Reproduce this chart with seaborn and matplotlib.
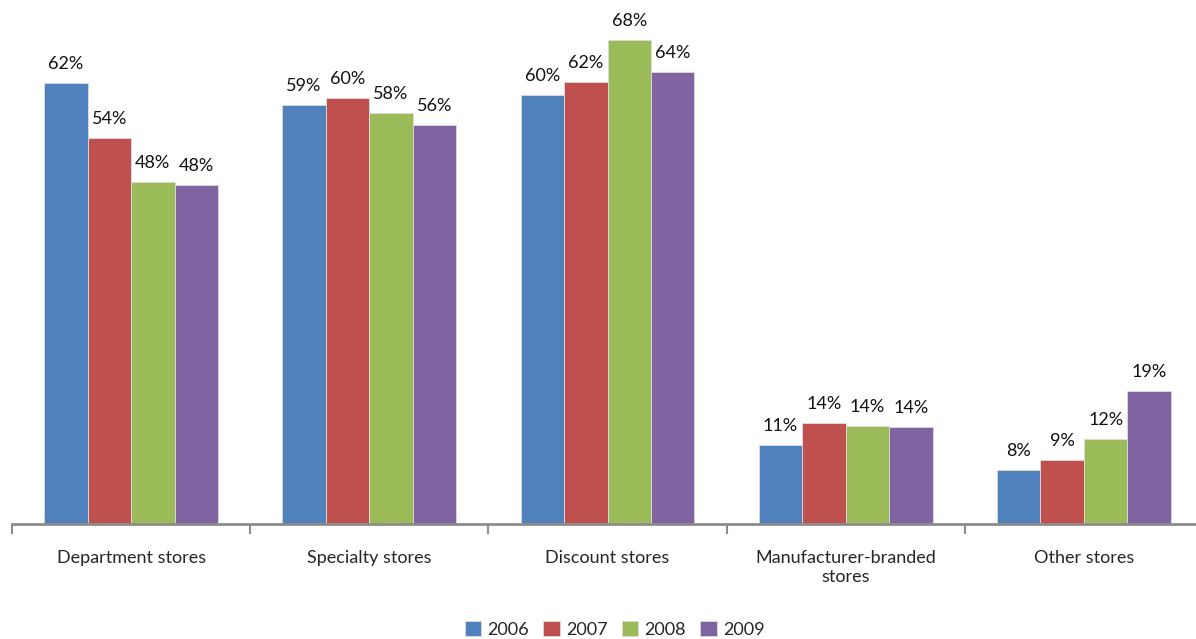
import pandas as pd
import matplotlib
matplotlib.use('Agg')
import matplotlib.pyplot as plt
import seaborn as sns

# values (bar heights, labels rounded)
categories = ['Department stores', 'Specialty stores', 'Discount stores',
              'Manufacturer-branded\nstores', 'Other stores']
years = ['2006', '2007', '2008', '2009']
share_2006 = [62.1, 59.0, 60.4, 11.1, 7.6]
share_2007 = [54.4, 60.0, 62.3, 14.2, 9.0]
share_2008 = [48.2, 57.9, 68.1, 13.8, 12.0]
share_2009 = [47.7, 56.2, 63.7, 13.6, 18.7]
colors = ['#4F81BD', '#C0504D', '#9BBB59', '#8064A2']

rows = []
for year, vals in zip(years, [share_2006, share_2007, share_2008, share_2009]):
    for cat, v in zip(categories, vals):
        rows.append({'category': cat, 'year': year, 'share': v})
df = pd.DataFrame(rows)

sns.set_style('white')
plt.rcParams['font.family'] = ['Lato', 'DejaVu Sans']

fig = plt.figure(figsize=(11.96, 6.39), dpi=100)
ax = fig.add_axes([12 / 1196, (639 - 524) / 639, 1191 / 1196, 524 / 639])

sns.barplot(data=df, x='category', y='share', hue='year', palette=colors,
            width=0.73, saturation=1, ax=ax, edgecolor='#dddddd', linewidth=0.6)

# percentage labels on top of each bar
for container in ax.containers:
    ax.bar_label(container, labels=[f'{v:.0f}%' for v in container.datavalues],
                 padding=8, fontsize=13, color='#111111')

ax.set_ylim(0, 524 / 7.1)
ax.set_xlim(-0.5, len(categories) - 0.5)
ax.set_xlabel('')
ax.set_ylabel('')
ax.set_yticks([])

for side in ['top', 'right', 'left']:
    ax.spines[side].set_visible(False)
ax.spines['bottom'].set_color('#8c8c8c')
ax.spines['bottom'].set_linewidth(2)

# labels centered, tick marks at group boundaries
ax.tick_params(axis='x', which='major', length=0, pad=19, labelsize=13)
ax.set_xticks([i - 0.5 for i in range(len(categories) + 1)], minor=True)
ax.tick_params(axis='x', which='minor', length=7, width=1.5, color='#8c8c8c',
               direction='out', bottom=True)

leg = ax.legend(loc='lower center', bbox_to_anchor=(0.506, -0.242), ncol=4,
                frameon=False, fontsize=13, handlelength=0.9, handleheight=0.9,
                handletextpad=0.35, columnspacing=0.8, borderpad=0.2)

fig.savefig('out.png', dpi=100)
